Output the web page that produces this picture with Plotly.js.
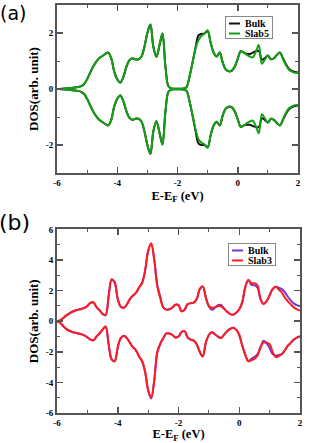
<!DOCTYPE html>
<html>
<head>
<meta charset="utf-8">
<script src="https://cdn.plot.ly/plotly-3.0.1.min.js"></script>
<style>
html,body{margin:0;padding:0;background:#fff;}
#chart{width:313px;height:443px;}
</style>
</head>
<body>
<div id="chart"></div>
<script>
// ---------- Energy grid (eV, relative to E_F) ----------
const energy = [-6.0,-5.9,-5.8,-5.7,-5.6,-5.5,-5.4,-5.3,-5.2,-5.1,-5.0,-4.9,-4.8,-4.7,-4.6,-4.5,-4.4,-4.3,-4.2,-4.1,
  -4.0,-3.9,-3.8,-3.7,-3.6,-3.5,-3.4,-3.3,-3.2,-3.1,-3.0,-2.9,-2.8,-2.7,-2.6,-2.5,-2.4,-2.3,-2.2,-2.1,
  -2.0,-1.9,-1.8,-1.7,-1.6,-1.5,-1.4,-1.3,-1.2,-1.1,-1.0,-0.9,-0.8,-0.7,-0.6,-0.5,-0.4,-0.3,-0.2,-0.1,
  0.0,0.1,0.2,0.3,0.4,0.5,0.6,0.7,0.8,0.9,1.0,1.1,1.2,1.3,1.4,1.5,1.6,1.7,1.8,1.9,2.0];

// ---------- Panel (a) ----------
const aBulkUp = [0.00,0.00,0.01,0.02,0.03,0.04,0.05,0.07,0.10,0.18,
  0.35,0.58,0.80,0.97,1.10,1.17,1.25,1.30,1.10,0.62,
  0.35,0.23,0.42,0.78,1.02,1.10,1.06,1.06,1.15,1.50,
  2.00,2.30,1.50,1.15,1.55,1.98,0.80,0.10,0.02,0.01,
  0.01,0.01,0.02,0.07,0.45,0.95,1.48,1.92,1.97,1.98,
  2.07,1.65,1.30,1.16,1.30,0.95,0.70,0.63,0.65,0.80,
  1.08,1.35,1.30,1.26,1.25,1.30,1.35,1.36,1.05,1.10,
  1.20,1.06,1.10,1.22,1.30,1.10,0.88,0.72,0.65,0.61,0.59];
const aSlabUp = [0.00,0.00,0.01,0.02,0.03,0.04,0.05,0.07,0.10,0.18,
  0.35,0.58,0.80,0.97,1.10,1.17,1.25,1.30,1.10,0.62,
  0.35,0.23,0.42,0.78,1.02,1.10,1.06,1.06,1.15,1.50,
  2.00,2.30,1.50,1.15,1.55,1.98,0.80,0.10,0.02,0.01,
  0.01,0.01,0.02,0.07,0.45,0.95,1.45,1.75,1.90,1.98,
  2.10,1.65,1.30,1.16,1.30,0.95,0.70,0.64,0.66,0.80,
  1.08,1.35,1.30,1.22,1.16,1.13,1.33,1.57,0.90,1.05,
  1.20,1.06,1.10,1.22,1.30,1.08,0.85,0.69,0.62,0.58,0.57];
const aBulkDown = [0.00,0.00,-0.01,-0.02,-0.03,-0.04,-0.05,-0.07,-0.10,-0.18,
  -0.35,-0.58,-0.80,-0.97,-1.10,-1.17,-1.25,-1.30,-1.10,-0.62,
  -0.35,-0.23,-0.42,-0.78,-1.02,-1.10,-1.06,-1.06,-1.15,-1.50,
  -2.00,-2.32,-1.50,-1.15,-1.55,-1.98,-0.80,-0.10,-0.02,-0.01,
  -0.01,-0.01,-0.02,-0.07,-0.45,-0.95,-1.50,-1.95,-2.00,-2.00,
  -2.08,-1.65,-1.30,-1.18,-1.30,-0.95,-0.70,-0.63,-0.65,-0.80,
  -1.08,-1.35,-1.30,-1.28,-1.28,-1.32,-1.36,-1.36,-1.05,-1.10,
  -1.20,-1.06,-1.10,-1.22,-1.30,-1.10,-0.88,-0.72,-0.65,-0.61,-0.59];
const aSlabDown = [0.00,0.00,-0.01,-0.02,-0.03,-0.04,-0.05,-0.07,-0.10,-0.18,
  -0.35,-0.58,-0.80,-0.97,-1.10,-1.17,-1.25,-1.30,-1.10,-0.62,
  -0.35,-0.23,-0.42,-0.78,-1.02,-1.10,-1.06,-1.06,-1.15,-1.50,
  -2.00,-2.30,-1.50,-1.15,-1.55,-1.98,-0.80,-0.10,-0.02,-0.01,
  -0.01,-0.01,-0.02,-0.07,-0.45,-0.95,-1.45,-1.80,-1.92,-1.98,
  -2.10,-1.65,-1.30,-1.16,-1.30,-0.95,-0.70,-0.64,-0.66,-0.80,
  -1.08,-1.35,-1.30,-1.22,-1.16,-1.13,-1.33,-1.58,-0.90,-1.05,
  -1.20,-1.06,-1.10,-1.22,-1.30,-1.08,-0.85,-0.69,-0.62,-0.58,-0.57];

// ---------- Panel (b) ----------
const bBulkUp = [0.00,0.05,0.20,0.37,0.50,0.62,0.70,0.76,0.80,0.87,
  1.00,1.20,1.22,0.92,0.72,0.48,0.40,1.65,2.72,2.50,
  1.45,0.95,0.88,1.10,1.45,1.68,1.85,2.20,2.50,3.30,
  4.60,5.05,4.05,2.40,1.60,0.90,0.76,0.78,0.90,1.08,
  1.05,0.65,0.75,1.12,1.18,1.22,1.45,2.10,2.25,1.55,
  0.98,0.75,0.88,1.05,1.06,0.82,0.62,0.47,0.43,0.55,
  0.78,1.25,2.25,2.70,2.38,2.35,2.20,1.45,1.13,1.30,
  1.70,2.10,2.25,2.20,2.10,1.90,1.60,1.35,1.15,1.05,0.98];
const bSlabUp = [0.00,0.05,0.20,0.37,0.50,0.62,0.70,0.76,0.80,0.87,
  1.00,1.20,1.24,0.92,0.72,0.48,0.40,1.65,2.75,2.55,
  1.45,0.95,0.88,1.10,1.45,1.68,1.85,2.20,2.50,3.30,
  4.60,5.10,4.05,2.30,1.50,0.90,0.76,0.78,0.90,1.08,
  1.05,0.65,0.75,1.12,1.18,1.22,1.45,2.10,2.28,1.55,
  0.98,0.88,0.92,1.00,0.98,0.82,0.62,0.47,0.43,0.55,
  0.78,1.25,2.25,2.70,2.48,2.48,2.35,1.45,1.13,1.30,
  1.70,2.10,2.25,2.08,1.88,1.55,1.30,1.10,0.90,0.78,0.70];
const bBulkDown = [0.00,-0.10,-0.30,-0.50,-0.62,-0.70,-0.75,-0.80,-0.85,-0.92,
  -1.05,-1.20,-1.25,-1.00,-0.80,-0.55,-0.35,-1.50,-2.50,-2.60,
  -1.70,-1.10,-0.95,-1.10,-1.40,-1.70,-1.90,-2.30,-2.60,-3.30,
  -4.50,-5.05,-3.90,-2.10,-1.50,-1.10,-0.80,-0.80,-0.90,-1.06,
  -1.00,-0.70,-0.65,-1.05,-1.20,-1.27,-1.50,-2.00,-2.30,-1.40,
  -0.90,-0.72,-0.85,-1.00,-1.10,-0.88,-0.65,-0.50,-0.42,-0.55,
  -0.90,-1.60,-2.20,-2.62,-2.45,-2.35,-2.15,-1.70,-1.28,-1.45,
  -1.75,-2.15,-2.25,-2.20,-2.15,-1.90,-1.60,-1.40,-1.20,-1.07,-1.00];
const bSlabDown = [0.00,-0.10,-0.30,-0.50,-0.62,-0.70,-0.75,-0.80,-0.85,-0.92,
  -1.05,-1.20,-1.25,-1.00,-0.80,-0.55,-0.35,-1.50,-2.50,-2.62,
  -1.70,-1.10,-0.95,-1.10,-1.40,-1.70,-1.90,-2.30,-2.60,-3.30,
  -4.50,-5.00,-3.90,-2.00,-1.45,-1.10,-0.80,-0.80,-0.90,-1.06,
  -1.00,-0.70,-0.65,-1.05,-1.20,-1.27,-1.50,-2.00,-2.30,-1.40,
  -0.90,-0.72,-0.85,-1.00,-1.10,-0.88,-0.65,-0.50,-0.42,-0.55,
  -0.90,-1.60,-2.20,-2.62,-2.55,-2.45,-2.25,-1.70,-1.38,-1.40,
  -1.50,-2.00,-2.35,-2.28,-2.15,-1.90,-1.60,-1.40,-1.20,-1.07,-1.00];

// ---------- Tick labels ----------
const xTickVals = [-6,-4,-2,0,2];
const xTickText = ['-6','-4','-2','0','2'];
const aYTickVals = [-2,0,2];
const aYTickText = ['-2','0','2'];
const bYTickVals = [-6,-4,-2,0,2,4,6];
const bYTickText = ['-6','-4','-2','0','2','4','6'];

// ---------- Series names & colours ----------
const aNames = ['Bulk','Slab5'];
const bNames = ['Bulk','Slab3'];
const aColors = ['#111111','#14a014'];
const bColors = ['#7a33d6','#ff1c1c'];

const LW = 2;
function tr(y, name, color, xa, ya, leg, show){
  return {x: energy, y: y, type:'scatter', mode:'lines', name: name,
    line:{color: color, width: LW, shape:'spline', smoothing:1},
    xaxis: xa, yaxis: ya, legend: leg, showlegend: show, hoverinfo:'skip'};
}

const data = [
  tr(aBulkUp, aNames[0], aColors[0], 'x', 'y', 'legend', true),
  tr(aBulkDown, aNames[0], aColors[0], 'x', 'y', 'legend', false),
  tr(aSlabUp, aNames[1], aColors[1], 'x', 'y', 'legend', true),
  tr(aSlabDown, aNames[1], aColors[1], 'x', 'y', 'legend', false),
  tr(bBulkUp, bNames[0], bColors[0], 'x2', 'y2', 'legend2', true),
  tr(bBulkDown, bNames[0], bColors[0], 'x2', 'y2', 'legend2', false),
  tr(bSlabUp, bNames[1], bColors[1], 'x2', 'y2', 'legend2', true),
  tr(bSlabDown, bNames[1], bColors[1], 'x2', 'y2', 'legend2', false)
];

const serif = 'Liberation Serif';
const tickFont = {family: serif, size: 9, color:'#000', weight: 700};
const titleFont = {family: serif, size: 13, color:'#000', weight: 700};
const xTitleFont = {family: serif, size: 12.5, color:'#000', weight: 700};
function ax(extra){
  return Object.assign({
    showgrid:false, zeroline:false, showline:true, mirror:'ticks',
    linecolor:'#555', linewidth:2, ticks:'inside', ticklen:6, tickwidth:1.5, tickcolor:'#555',
    tickfont: tickFont, tickmode:'array', fixedrange:true,
    minor:{tickmode:'linear', tick0:0, dtick:1, ticks:'inside', ticklen:3, tickwidth:1, tickcolor:'#555'}
  }, extra);
}
const xTitle = {text:'E-E<sub>F</sub> (eV)', font: xTitleFont, standoff: 4};
const yTitle = {text:'DOS(arb. unit)', font: titleFont, standoff: 4};

const legendCommon = {bgcolor:'#fff', bordercolor:'#888', borderwidth:1,
  font:{family: serif, size: 10, color:'#000', weight: 700},
  xanchor:'left', yanchor:'top', tracegroupgap:0};

const layout = {
  width:313, height:443,
  margin:{l:57, r:13, t:5, b:30},
  paper_bgcolor:'#fff', plot_bgcolor:'#fff',
  showlegend:true,
  xaxis: ax({domain:[0,0.9918], range:[-6,2], tickvals:xTickVals, ticktext:xTickText, anchor:'y', title: xTitle}),
  yaxis: ax({domain:[0.5882,1], range:[-3,3], tickvals:aYTickVals, ticktext:aYTickText, anchor:'x', title: yTitle}),
  xaxis2: ax({domain:[0,1], range:[-6,2], tickvals:xTickVals, ticktext:xTickText, anchor:'y2', title: xTitle}),
  yaxis2: ax({domain:[0,0.4498], range:[-6,6], tickvals:bYTickVals, ticktext:bYTickText, anchor:'x2', title: yTitle}),
  legend: Object.assign({x:0.6914, y:0.9730}, legendCommon),
  legend2: Object.assign({x:0.7037, y:0.4167}, legendCommon),
  annotations:[
    {text:'(a)', xref:'paper', yref:'paper', x:-0.181, y:0.9804, xanchor:'center', yanchor:'middle',
     showarrow:false, font:{family:'DejaVu Sans, sans-serif', size:19, color:'#000'}},
    {text:'(b)', xref:'paper', yref:'paper', x:-0.175, y:0.4681, xanchor:'center', yanchor:'middle',
     showarrow:false, font:{family:'DejaVu Sans, sans-serif', size:22, color:'#000'}}
  ]
};

const gd = document.getElementById('chart');
Plotly.newPlot(gd, data, layout, {staticPlot:true, displayModeBar:false}).then(compactLegends);

// Make legend entries compact (short line samples, tight rows) like the original figure
function compactLegends(){
  gd.querySelectorAll('.infolayer > g').forEach(function(leg){
    if (!/^legend\d*$/.test(leg.getAttribute('class').split(' ')[0])) return;
    const items = leg.querySelectorAll('g.traces');
    items.forEach(function(it, i){
      it.setAttribute('transform', 'translate(1,' + (7.5 + i*10) + ')');
      it.querySelectorAll('path.js-line').forEach(function(p){ p.setAttribute('d','M3,0h11'); });
      it.querySelectorAll('text').forEach(function(t){ t.setAttribute('x', 19); });
    });
    const bg = leg.querySelector('rect.bg');
    if (bg){ bg.setAttribute('width', 47); bg.setAttribute('height', 22); }
  });
}
</script>
</body>
</html>
